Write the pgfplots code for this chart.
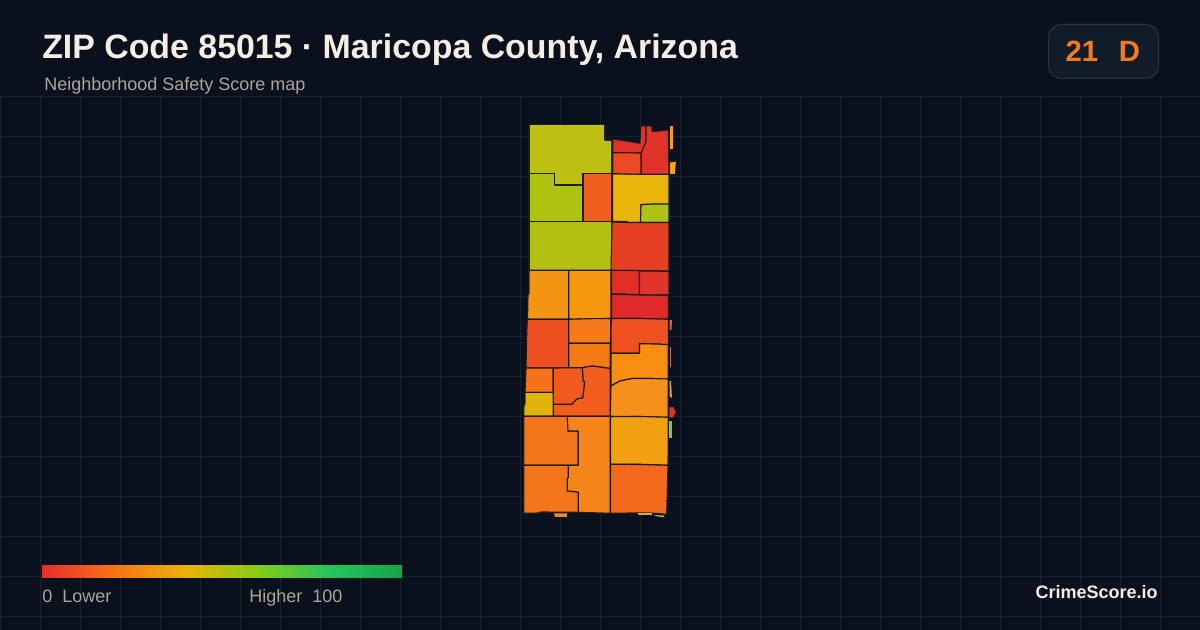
\documentclass[border=0pt]{standalone}
\usepackage{pgfplots}
\pgfplotsset{compat=1.18}
\usepackage{fontspec}
\setmainfont{Liberation Sans}
\definecolor{bg}{HTML}{0A111C}
\definecolor{gridc}{HTML}{15232F}
\definecolor{bord}{HTML}{1C1C1E}
\definecolor{titlec}{HTML}{F5EEE4}
\definecolor{subc}{HTML}{ABA79B}
\definecolor{badgef}{HTML}{101C28}
\definecolor{badged}{HTML}{27343F}
\definecolor{orangec}{HTML}{F57A1E}
\definecolor{g0}{HTML}{E52E2E}
\definecolor{g1}{HTML}{F97316}
\definecolor{g2}{HTML}{EAB308}
\definecolor{g3}{HTML}{84CC16}
\definecolor{g4}{HTML}{22C55E}
\definecolor{g5}{HTML}{16A34A}
\newcommand\reg[2]{\definecolor{c#1}{HTML}{#1}\addplot[fill=c#1,draw=bord,line width=0.85pt,line join=round] coordinates {#2} -- cycle;}
\newcommand\sliv[2]{\definecolor{c#1}{HTML}{#1}\addplot[fill=c#1,draw=none] coordinates {#2} -- cycle;}
\begin{document}
\begin{tikzpicture}
\begin{axis}[
  scale only axis, x=0.75pt, y=0.75pt, y dir=reverse,
  xmin=0,xmax=1200,ymin=0,ymax=630,
  hide axis, no markers, clip=true]
\fill[bg] (axis cs:0,0) rectangle (axis cs:1200,630);
\pgfplotsinvokeforeach{0,40,...,1200}{\draw[gridc,line width=0.75pt] (axis cs:#1+0.5,96) -- (axis cs:#1+0.5,630);}
\pgfplotsinvokeforeach{96,136,...,616}{\draw[gridc,line width=0.75pt] (axis cs:0,#1+0.5) -- (axis cs:1200,#1+0.5);}
% regions
\reg{BDC012}{(529,124.5)(605,124.5)(605,140)(612,140)(612,173.7)(583,173.7)(583,185)(554.7,185)(554.7,173.7)(529,173.7)}
\reg{AEC30F}{(529,173.7)(554.7,173.7)(554.7,185)(583,185)(583,221.3)(529,221.3)}
\reg{F05F1E}{(583,173.7)(612,173.7)(612,221.3)(583,221.3)}
\reg{E9B50A}{(612.5,173.7)(669,174)(669,204.5)(641,204.5)(641,222.5)(627,222.5)(627,221.5)(612.5,221.3)}
\reg{ACC414}{(641,204.7)(652,204)(669,204)(669,222.5)(640.5,222.5)}
\reg{E1312A}{(612.7,139)(640,143.3)(640.7,126)(646,126)(646,141.7)(642,152)(641,153)(612.7,152.7)}
\reg{E2332A}{(646,126)(651.7,126)(652.3,131.7)(668.3,130)(669,174.3)(641,174.3)(641,153.3)(646,141.7)}
\reg{EC4A22}{(612.7,152.7)(641,153)(641,174.3)(612.7,173.7)}
\reg{B2C011}{(529,221.3)(612,221.3)(612,270.3)(529,270.3)}
\reg{E63F24}{(612,222)(627,222.5)(669,222.5)(669,271)(611,270.3)(611.5,250)}
\reg{F39412}{(529,270.3)(568.7,270.3)(568.7,319.3)(527.5,319.3)(528,295)(529,293)}
\reg{F3980F}{(568.7,270.3)(611,270.3)(611,318.5)(590,319)(568.7,319.3)}
\reg{E13027}{(611.5,270.3)(639.5,270.5)(639.5,294.5)(626,294.5)(626,294)(611.5,294)}
\reg{E2352A}{(639.5,271)(669,271.3)(669,295)(639.5,295)}
\reg{DF2A29}{(611.5,294.3)(626,294.5)(639.5,295)(668.5,295.3)(668.5,319.3)(640,318.5)(611.5,318.5)}
\reg{EC4F20}{(527.3,319.3)(568.7,319.3)(568.7,368)(526,368)(526.7,335)}
\reg{F67A17}{(568.7,319.3)(590,318.7)(610.5,318.5)(611,331)(610.3,343.3)(568.7,343.3)}
\reg{F67A15}{(568.7,343.3)(610.3,343.3)(610.3,368.5)(600,367)(592,366)(582.3,367.7)(568.7,368)}
\reg{EE5220}{(611.5,318.5)(640,318.5)(668.5,319.3)(668.3,344.7)(655,344)(639.5,343.7)(639.5,353.3)(611,353.3)(611,331)}
\reg{F78E12}{(611,353.3)(639.5,353.3)(639.5,343.7)(655,344)(668.3,344.7)(668.3,379)(650,378.5)(632,378.5)(620,381)(611,386)}
\reg{F5721A}{(526,368)(553.3,368)(553.3,392.4)(525,392.4)}
\reg{F15E1D}{(582.3,367.7)(592,366)(600,367)(610.3,368.5)(610.3,416.3)(553.3,416.3)(553.3,404.3)(571.7,404.3)(576.7,399)(582.7,397.7)(584,387)(584.5,381.5)(583,381)}
\reg{F05A1E}{(553.3,368)(582.3,367.7)(583,381)(584.5,381.5)(584,387)(582.7,397.7)(576.7,399)(571.7,404.3)(553.3,404.3)}
\reg{E1B40C}{(525,392.4)(553.3,392.4)(553.3,416.3)(523.7,416.3)(524,405)(525,404)}
\reg{F7901A}{(611,386)(620,381)(632,378.5)(650,378.5)(668.3,379)(668.3,417.3)(640,416.5)(610.3,416.3)}
\reg{F5761A}{(523.7,416.3)(567.3,416.3)(568,431)(578.3,431)(578.3,465.3)(523.7,465.3)}
\reg{F7841A}{(567.3,416.3)(610.3,416.3)(610.3,513.3)(578.3,512.3)(578.3,492.3)(572,491.5)(567.3,491)(567.3,478.3)(568.3,477.5)(568.3,465.3)(578.3,465.3)(578.3,431)(568,431)}
\reg{F5761A}{(523.7,465.3)(568.3,465.3)(568.3,477.5)(567.3,478.3)(567.3,491)(572,491.5)(578.3,492.3)(578.3,512.3)(540,512)(539,513)(523.7,513.3)}
\reg{F0A010}{(610.5,416.7)(640,416.5)(668.3,417.3)(668,465.3)(640,464.3)(610.5,464.3)}
\reg{F4691C}{(610.5,464.3)(640,464.5)(668,465.3)(667.3,490)(666.7,514.3)(650,513)(632,513)(610.5,513.3)}
% slivers
\sliv{F0A020}{(670,126)(673.3,126)(673.3,149)(670,149)}
\sliv{F2A01C}{(670,162.5)(676,161.7)(674.7,174)(670,174)}
\sliv{D9633A}{(669.5,320)(672,320)(671.5,330)(669.5,330)}
\sliv{C5704A}{(669.5,347)(671.3,347)(671.3,367)(669.5,367)}
\sliv{D9A058}{(669.5,381)(671,381)(672,398)(669.5,396)}
\sliv{D8352A}{(669.3,407.5)(673,407)(675.8,411.5)(673,417.5)(669.3,417.5)}
\sliv{84C640}{(669,421)(672.3,421)(672.3,438)(669,438)}
\sliv{F08A30}{(554,513.5)(567.3,513.5)(566.7,517)(555,517)}
\sliv{D4B020}{(638,513)(652,513)(652,514.6)(638,514.6)}
\sliv{8AC040}{(653,515)(664,515.5)(664,517.3)(659,516.8)}
% title
\node[anchor=base west,inner sep=0pt,text=titlec,font=\fontsize{25.4pt}{30pt}\selectfont\bfseries] at (axis cs:42,59) {ZIP Code 85015 · Maricopa County, Arizona};
\node[anchor=base west,inner sep=0pt,text=subc,font=\fontsize{13.5pt}{16pt}\selectfont] at (axis cs:44,90.7) {Neighborhood Safety Score map};
% badge
\draw[fill=badgef,draw=badged,line width=0.75pt,rounded corners=9.5pt] (axis cs:1048.5,24.5) rectangle (axis cs:1158.5,78.5);
\node[anchor=base west,inner sep=0pt,text=orangec,font=\fontsize{22pt}{26pt}\selectfont\bfseries] at (axis cs:1065.3,61.7) {21};
\node[anchor=base west,inner sep=0pt,text=orangec,font=\fontsize{22pt}{26pt}\selectfont\bfseries] at (axis cs:1118.5,61.7) {D};
% gradient bar
\shade[left color=g0,right color=g1] (axis cs:42,565.4) rectangle (axis cs:114.3,578);
\shade[left color=g1,right color=g2] (axis cs:114,565.4) rectangle (axis cs:186.3,578);
\shade[left color=g2,right color=g3] (axis cs:186,565.4) rectangle (axis cs:258.3,578);
\shade[left color=g3,right color=g4] (axis cs:258,565.4) rectangle (axis cs:330.3,578);
\shade[left color=g4,right color=g5] (axis cs:330,565.4) rectangle (axis cs:402,578);
\node[anchor=base west,inner sep=0pt,text=subc,font=\fontsize{13.5pt}{16pt}\selectfont] at (axis cs:42,602.7) {0\hspace{7.5pt}Lower};
\node[anchor=base west,inner sep=0pt,text=subc,font=\fontsize{13.5pt}{16pt}\selectfont] at (axis cs:249,602.7) {Higher\hspace{7.5pt}100};
\node[anchor=base east,inner sep=0pt,text=titlec,font=\fontsize{13.5pt}{16pt}\selectfont\bfseries] at (axis cs:1158,599) {CrimeScore.io};
\end{axis}
\end{tikzpicture}
\end{document}
